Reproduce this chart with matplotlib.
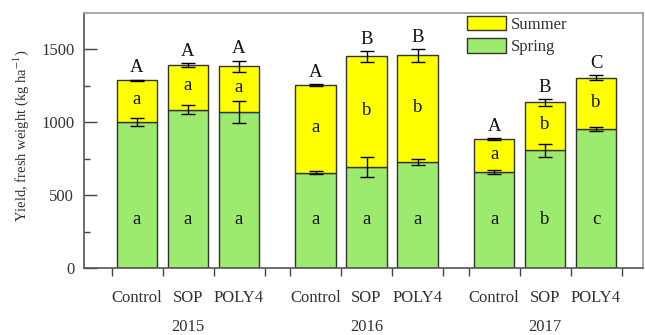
import matplotlib
matplotlib.use("Agg")
import matplotlib.pyplot as plt
import numpy as np
from matplotlib.ticker import FixedLocator

plt.rcParams['font.family'] = ['Liberation Serif', 'DejaVu Serif']
plt.rcParams['mathtext.fontset'] = 'stix'

years = ["2015", "2016", "2017"]
treatments = ["Control", "SOP", "POLY4"]
spring = [1002, 1087, 1071, 655, 694, 730, 660, 808, 952]
total = [1288, 1392, 1386, 1255, 1452, 1459, 883, 1136, 1306]
summer = [t - s for t, s in zip(total, spring)]
spring_err = [25, 32, 75, 10, 70, 20, 15, 43, 15]
total_err = [5, 15, 38, 5, 35, 43, 6, 24, 17]
upper_letters = ["A", "A", "A", "A", "B", "B", "A", "B", "C"]
summer_letters = ["a", "a", "a", "a", "b", "b", "a", "b", "b"]
spring_letters = ["a", "a", "a", "a", "a", "a", "a", "b", "c"]

x = np.array([0, 1, 2, 3.5, 4.5, 5.5, 7, 8, 9], dtype=float)

green = "#9CEB6E"
yellow = "#FFFF00"
edge = "#333333"

fig = plt.figure(figsize=(6.45, 3.35), dpi=100)
ax = fig.add_axes([84/645, 1 - 268/335, (643-84)/645, (268-13)/335])

w = 0.8
ax.bar(x, spring, w, color=green, edgecolor=edge, linewidth=1.0, label="Spring", zorder=2)
ax.bar(x, summer, w, bottom=spring, color=yellow, edgecolor=edge, linewidth=1.0, label="Summer", zorder=2)
ax.errorbar(x, spring, yerr=spring_err, fmt="none", ecolor="black", elinewidth=1, capsize=5, capthick=1, zorder=3)
ax.errorbar(x, total, yerr=total_err, fmt="none", ecolor="black", elinewidth=1, capsize=5, capthick=1, zorder=3)

fs = 13.5
for xi, s, t, te, U, sl, pl in zip(x, spring, total, total_err, upper_letters, summer_letters, spring_letters):
    ax.text(xi, 330, pl, ha="center", va="center", fontsize=fs, color="#111111", zorder=4)
    ax.text(xi, (s + t) / 2 + 10, sl, ha="center", va="center", fontsize=fs, color="#111111", zorder=4)
    ax.text(xi, t + te + 80, U, ha="center", va="center", fontsize=13.5, color="#111111", zorder=4)

ax.set_xlim(-1.04, 9.92)
ax.set_ylim(0, 1750)
ax.set_yticks([0, 500, 1000, 1500])
ax.yaxis.set_minor_locator(FixedLocator([250, 750, 1250]))
ax.tick_params(axis="y", which="major", direction="in", length=9, width=1, labelsize=12, pad=7, colors="#444444", labelcolor="#333333")
ax.tick_params(axis="y", which="minor", direction="in", length=4.5, width=1, colors="#444444")

ax.set_xticks(x)
ax.set_xticklabels(treatments * 3)
edges = sorted(set(list(x - 0.5) + list(x + 0.5)))
ax.xaxis.set_minor_locator(FixedLocator(edges))
ax.tick_params(axis="x", which="major", length=0, labelsize=12, pad=16, labelcolor="#333333")
ax.tick_params(axis="x", which="minor", direction="out", length=6, width=1, colors="#444444")

for gi, yr in enumerate(years):
    ax.text(x[gi*3 + 1], -0.232, yr, transform=ax.get_xaxis_transform(), ha="center", va="center", fontsize=12, color="#333333")

ax.set_ylabel("Yield, fresh weight (kg ha$^{-1}$)", fontsize=10.5, color="#333333")
ax.yaxis.set_label_coords(-0.094, 0.52)

for sp in ["left", "bottom"]:
    ax.spines[sp].set_color("#555555")
    ax.spines[sp].set_linewidth(1.2)
for sp in ["top", "right"]:
    ax.spines[sp].set_color("#999999")
    ax.spines[sp].set_linewidth(1.2)

handles, labels = ax.get_legend_handles_labels()
leg = ax.legend(handles[::-1], labels[::-1], loc="upper left", bbox_to_anchor=(0.685, 0.99),
                frameon=False, fontsize=12, handlelength=2.35, handleheight=1.0,
                labelspacing=0.3, handletextpad=0.3, borderpad=0, borderaxespad=0)
for t in leg.get_texts():
    t.set_color("#333333")

fig.savefig("out.png", dpi=100)
